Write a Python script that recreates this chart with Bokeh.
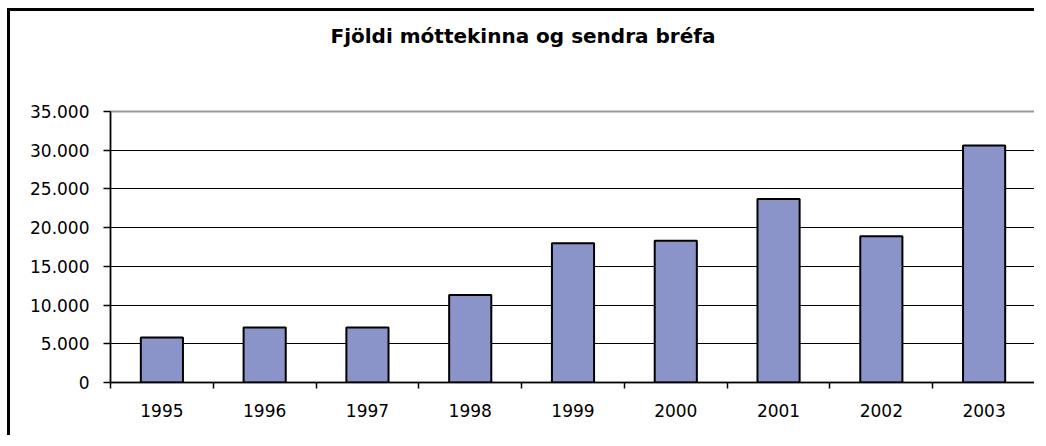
from bokeh.plotting import figure
from bokeh.models import (ColumnDataSource, LinearAxis, FixedTicker, Range1d,
                          CustomJSTickFormatter, Grid, Title)
from bokeh.embed import file_html
from bokeh.resources import INLINE

# ---- data ----
years = ["1995", "1996", "1997", "1998", "1999", "2000", "2001", "2002", "2003"]
letters = [5800, 7100, 7100, 11300, 18000, 18300, 23700, 18900, 30600]
y_ticks = [0, 5000, 10000, 15000, 20000, 25000, 30000, 35000]
title_text = "Fjöldi móttekinna og sendra bréfa"

n = len(years)
xpos = [i + 0.5 for i in range(n)]
src = ColumnDataSource(dict(x=xpos, top=letters, year=years))

p = figure(width=1027, height=427, output_backend="svg", toolbar_location=None,
           title=None,
           x_range=Range1d(0, n), y_range=Range1d(0, 35000),
           x_axis_type=None, y_axis_type=None,
           min_border_left=100, min_border_top=100, min_border_right=2,
           min_border_bottom=56)
p.styles = {"border-left": "3px solid black", "border-top": "3px solid black",
            "margin-left": "7px", "margin-top": "8px"}

p.outline_line_color = "#9a9a9a"
p.outline_line_width = 2
p.background_fill_color = "white"
p.border_fill_color = "white"

# spacer (closest to the frame) and then the real title above it
p.add_layout(Title(text=" ", text_font_size="1px", standoff=61), "above")
p.add_layout(Title(text=title_text, align="left", offset=220, standoff=0,
                   text_font="DejaVu Sans", text_font_size="20px",
                   text_font_style="bold", text_color="black"), "above")

# y axis
yax = LinearAxis(ticker=FixedTicker(ticks=y_ticks, minor_ticks=[]))
yax.formatter = CustomJSTickFormatter(
    code="return Math.round(tick).toString().replace(/\\B(?=(\\d{3})+(?!\\d))/g, '.');")
yax.axis_line_color = "black"
yax.axis_line_width = 1.5
yax.major_tick_out = 7
yax.major_tick_in = 0
yax.major_tick_line_color = "black"
yax.major_tick_line_width = 1.5
yax.minor_tick_line_color = None
yax.major_label_standoff = 14
yax.major_label_text_font = "DejaVu Sans"
yax.major_label_text_font_size = "17px"
yax.major_label_text_color = "black"
p.add_layout(yax, "left")

# x axis: labels at category centres, ticks between categories
xax = LinearAxis(ticker=FixedTicker(ticks=xpos, minor_ticks=list(range(n + 1))))
xax.major_label_overrides = {x: y for x, y in zip(xpos, years)}
xax.axis_line_color = "black"
xax.axis_line_width = 1.5
xax.major_tick_out = 0
xax.major_tick_in = 0
xax.minor_tick_out = 6
xax.minor_tick_in = 0
xax.minor_tick_line_color = "black"
xax.minor_tick_line_width = 1.5
xax.major_label_standoff = 15
xax.major_label_text_font = "DejaVu Sans"
xax.major_label_text_font_size = "17px"
xax.major_label_text_color = "black"
p.add_layout(xax, "below")

# horizontal grid lines
grid = Grid(dimension=1, ticker=FixedTicker(ticks=y_ticks[1:-1]),
            grid_line_color="black", grid_line_width=1)
p.add_layout(grid)

p.vbar(x="x", top="top", width=0.41, bottom=0, source=src,
       fill_color="#8a94c8", line_color="black", line_width=2)

open("out.html", "w").write(file_html(p, INLINE))
